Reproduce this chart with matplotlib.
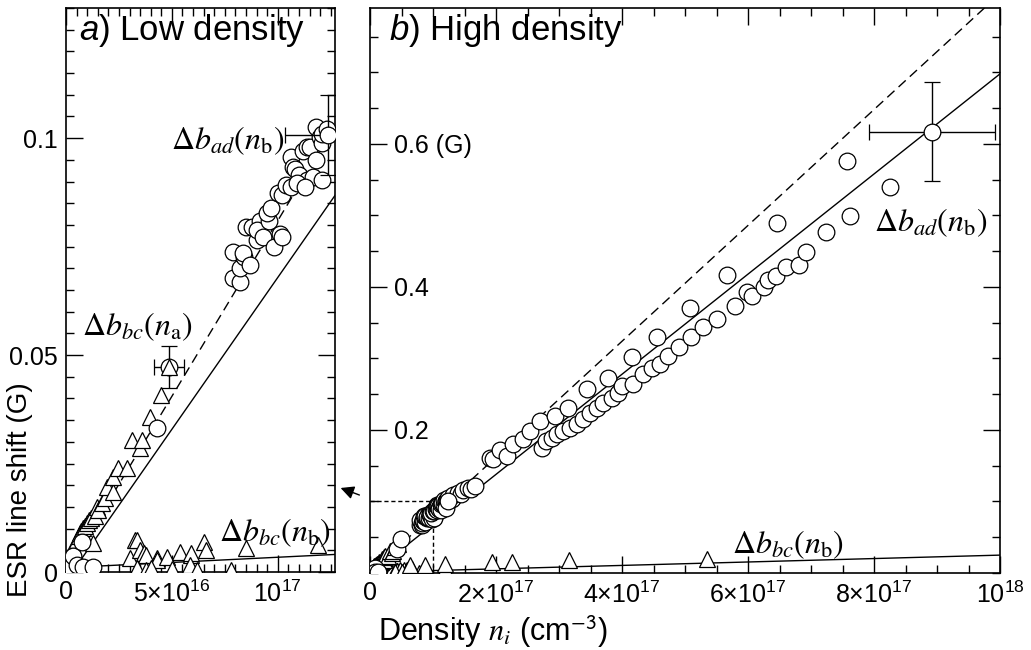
import numpy as np
import matplotlib
matplotlib.use("Agg")
import matplotlib.pyplot as plt
from matplotlib.ticker import MultipleLocator, FixedLocator

SANS = ['Liberation Sans', 'DejaVu Sans']
plt.rcParams['font.family'] = SANS
plt.rcParams['mathtext.fontset'] = 'custom'
plt.rcParams['mathtext.rm'] = 'Liberation Sans'
plt.rcParams['mathtext.it'] = 'Liberation Sans:italic'
plt.rcParams['mathtext.bf'] = 'Liberation Sans:bold'

# ---------------- data ----------------
UNIT_A = 1e16   # panel a x values given in 1e16 cm^-3
UNIT_B = 1e17   # panel b extra x values given in 1e17 cm^-3

# Delta b_ad(n_b) circles, low density (x in 1e16)
ad_low_x = [0.2, 0.35, 0.5, 0.75, 0.8, 1.27, 4.3,
            7.9, 8.2, 7.9, 8.2, 8.4, 8.35, 8.7, 8.5, 8.8, 9.15, 9.0, 9.0, 9.3,
            9.6, 9.5, 9.8, 10.1, 10.2, 9.7, 10.0, 10.2, 10.4, 10.6, 10.6, 10.7,
            10.8, 11.0, 11.4, 11.65, 10.9, 11.3, 11.2, 11.4, 11.5, 11.8, 11.8,
            12.0, 12.1, 12.1, 12.3, 12.1]
ad_low_y = [0.0012, 0.0037, 0.0015, 0.0068, 0.0012, 0.0012, 0.0332,
            0.0677, 0.0668, 0.0737, 0.0700, 0.0726, 0.0735, 0.0707, 0.0795, 0.0795,
            0.0810, 0.0765, 0.0788, 0.0772, 0.0810, 0.0827, 0.0749, 0.0780, 0.0772,
            0.0840, 0.0873, 0.0868, 0.0892, 0.0887, 0.0956, 0.0933, 0.0930, 0.0915,
            0.0903, 0.0910, 0.0896, 0.0887, 0.0970, 0.0980, 0.0980, 0.0950, 0.1025,
            0.1002, 0.0988, 0.1010, 0.1020, 0.0903]

# Delta b_bc(n_a) triangles (x in 1e16)
bca_x = [0.19, 0.33, 0.52, 0.6, 0.66, 0.7, 0.8, 0.9, 1.0, 1.1, 1.2, 1.27, 1.37,
         1.46, 1.5, 1.7, 1.84, 1.93, 2.2, 2.2, 2.45, 2.9, 3.1, 3.5, 3.6, 3.96, 4.5]
bca_y = [0.0010, 0.0058, 0.0074, 0.0082, 0.0090, 0.0095, 0.0101, 0.0105, 0.0113,
         0.0120, 0.0125, 0.0067, 0.0130, 0.0150, 0.0142, 0.0160, 0.0170, 0.0196,
         0.0184, 0.0219, 0.0240, 0.0240, 0.0304, 0.0286, 0.0304, 0.0357, 0.0408]

# Delta b_bc(n_b) triangles, low density (x in 1e16)
bcb_low_x = [0.3, 3.0, 3.25, 3.35, 3.5, 3.7, 3.8, 4.3, 4.3, 4.75, 5.4, 5.9, 5.9,
             6.5, 6.6, 8.5, 11.9, 3.35, 3.8, 5.85, 6.2, 7.8, 4.0, 5.0]
bcb_low_y = [0.0005, 0.0032, 0.0074, 0.0074, 0.0050, 0.0044, 0.0039, 0.0032,
             0.0028, 0.0035, 0.0046, 0.0039, 0.0044, 0.0069, 0.0050, 0.0055,
             0.0062, 0.0010, 0.0005, 0.0016, 0.0005, 0.0005, 0.0010, 0.0008]

# error-bar points, low density (x in 1e16)
err_low_x = [4.86, 12.35]
err_low_y = [0.0472, 0.1007]
err_low_xerr = [0.7, 2.0]
err_low_yerr = [0.0048, 0.0092]

# Delta b_ad(n_b) circles, high density (x in 1e17)
ad_high_x = [1.24, 1.3, 1.32, 1.4, 1.45, 1.48, 1.56, 1.6, 1.67,
             1.9, 1.95, 2.06, 2.17, 2.27, 2.43, 2.54, 2.7, 2.94, 3.14, 3.44, 3.78,
             4.16, 4.56, 5.08, 5.67, 6.46, 7.57, 8.25,
             2.73, 2.8, 2.89, 2.97, 3.06, 3.17, 3.28, 3.38, 3.49, 3.6, 3.7, 3.84,
             3.94, 4.0, 4.17, 4.33, 4.48, 4.6, 4.73, 4.9, 5.1, 5.29, 5.5, 5.79,
             5.98, 6.06, 6.25, 6.32, 6.44, 6.6, 6.81, 6.92, 7.24, 7.62]
ad_high_y = [0.105, 0.104, 0.109, 0.112, 0.110, 0.116, 0.119, 0.117, 0.121,
             0.161, 0.160, 0.172, 0.163, 0.180, 0.187, 0.198, 0.212, 0.219, 0.231,
             0.257, 0.273, 0.302, 0.330, 0.370, 0.417, 0.490, 0.576, 0.540,
             0.175, 0.184, 0.189, 0.194, 0.198, 0.203, 0.208, 0.215, 0.224, 0.231,
             0.238, 0.245, 0.252, 0.261, 0.264, 0.278, 0.287, 0.292, 0.303, 0.316,
             0.330, 0.344, 0.355, 0.373, 0.393, 0.387, 0.400, 0.410, 0.415, 0.428,
             0.431, 0.449, 0.477, 0.499]

# Delta b_bc(n_b) triangles, high density (x in 1e17)
bcb_high_x = [0.63, 0.87, 1.19, 1.94, 2.25, 3.16, 5.35]
bcb_high_y = [0.011, 0.011, 0.012, 0.016, 0.016, 0.018, 0.020]

# error-bar point, high density (x in 1e17)
err_high_x = [8.92]
err_high_y = [0.617]
err_high_xerr = [1.0]
err_high_yerr = [0.069]

# fitted lines: slope (G per cm^-3), x offset, intercept
dash_slope = 8.1e-19
solid_slope = 7.0e-19
solid_x0 = 3e15
bcb_slope = 2.4e-20
bcb_icpt = 0.001

# ---------------- figure ----------------
W, H = 1031, 650
fig = plt.figure(figsize=(W / 100, H / 100), dpi=100)
ax_a = fig.add_axes([66 / W, 78 / H, 269 / W, 564 / H])
ax_b = fig.add_axes([370 / W, 77 / H, 630 / W, 565 / H])

mk = dict(linestyle='none', markerfacecolor='white', markeredgecolor='black',
          markeredgewidth=0.9, markersize=12)
eb = dict(fmt='o', color='black', ecolor='black', elinewidth=1.0, capsize=6,
          capthick=1.0, markerfacecolor='white', markeredgecolor='black',
          markeredgewidth=0.9, markersize=12, zorder=5)

xa = np.array(ad_low_x) * UNIT_A
ya = np.array(ad_low_y)
xta = np.array(bca_x) * UNIT_A
xtb = np.array(bcb_low_x) * UNIT_A
xe = np.array(err_low_x) * UNIT_A
xee = np.array(err_low_xerr) * UNIT_A
xh = np.array(ad_high_x) * UNIT_B
xth = np.array(bcb_high_x) * UNIT_B


def draw_lines(ax, xmax):
    xx = np.array([0.0, xmax])
    ax.plot(xx, dash_slope * xx, color='black', lw=1.0, ls=(0, (7, 4)), zorder=2)
    xs = np.array([solid_x0, xmax])
    ax.plot(xs, solid_slope * (xs - solid_x0), color='black', lw=1.0, zorder=2)
    ax.plot(xx, bcb_icpt + bcb_slope * xx, color='black', lw=1.0, zorder=2)


# ---- panel a ----
draw_lines(ax_a, 1.27e17)
ax_a.plot(xtb, bcb_low_y, marker='^', **mk, zorder=3)
ax_a.plot(xta, bca_y, marker='^', **mk, zorder=3)
ax_a.plot(xa, ya, marker='o', **mk, zorder=4)
ax_a.errorbar(xe, err_low_y, xerr=xee, yerr=err_low_yerr, **eb)
ax_a.plot(xe[:1], err_low_y[:1], marker='^', **mk, zorder=6)

ax_a.set_xlim(0, 1.27e17)
ax_a.set_ylim(0, 0.13)
ax_a.xaxis.set_major_locator(FixedLocator([0, 5e16, 1e17]))
ax_a.set_xticklabels(['0', r'$5{\times}10^{16}$', r'$10^{17}$'])
ax_a.xaxis.set_minor_locator(MultipleLocator(5e15))
ax_a.yaxis.set_major_locator(FixedLocator([0, 0.05, 0.1]))
ax_a.set_yticklabels(['0', '0.05', '0.1'])
ax_a.yaxis.set_minor_locator(MultipleLocator(0.005))

# ---- panel b ----
draw_lines(ax_b, 1.0e18)
ax_b.plot(xtb, bcb_low_y, marker='^', **mk, zorder=3)
ax_b.plot(xth, bcb_high_y, marker='^', **mk, zorder=3)
ax_b.plot(xta, bca_y, marker='^', **mk, zorder=3)
ax_b.plot(xa, ya, marker='o', **mk, zorder=4)
ax_b.plot(xh, ad_high_y, marker='o', **mk, zorder=4)
ax_b.plot(xe, err_low_y, marker='o', **mk, zorder=4)
ax_b.errorbar(np.array(err_high_x) * UNIT_B, err_high_y,
              xerr=np.array(err_high_xerr) * UNIT_B, yerr=err_high_yerr, **eb)
# zoom box
ax_b.plot([0, 1e17, 1e17], [0.1, 0.1, 0], color='black', lw=1.0, ls=(0, (3, 2)), zorder=2)

ax_b.set_xlim(0, 1e18)
ax_b.set_ylim(0, 0.79)
ax_b.xaxis.set_major_locator(FixedLocator([0, 2e17, 4e17, 6e17, 8e17, 1e18]))
ax_b.set_xticklabels(['0', r'$2{\times}10^{17}$', r'$4{\times}10^{17}$',
                      r'$6{\times}10^{17}$', r'$8{\times}10^{17}$', r'$10^{18}$'])
ax_b.xaxis.set_minor_locator(MultipleLocator(5e16))
ax_b.yaxis.set_major_locator(FixedLocator([0.2, 0.4, 0.6]))
ax_b.set_yticklabels(['0.2', '0.4', '0.6 (G)'])
ax_b.yaxis.set_minor_locator(MultipleLocator(0.05))

for ax in (ax_a, ax_b):
    ax.tick_params(which='both', direction='in', top=True, right=True,
                   width=1.0, labelsize=18)
    ax.tick_params(which='major', length=12)
    ax.tick_params(which='minor', length=6)
    ax.tick_params(axis='x', pad=6)
    for s in ax.spines.values():
        s.set_linewidth(1.2)
ax_a.tick_params(axis='y', pad=6)
ax_b.tick_params(axis='y', pad=-17)
for lab in ax_b.get_yticklabels():
    lab.set_horizontalalignment('left')

# ---- annotations ----
serif = dict(math_fontfamily='stix', fontsize=23, color='black')
ax_a.text(0.81, 0.765, r'$\Delta b_{ad}(n_\mathrm{b})$', transform=ax_a.transAxes,
          ha='right', va='center', **serif)
ax_a.text(0.06, 0.434, r'$\Delta b_{bc}(n_\mathrm{a})$', transform=ax_a.transAxes,
          ha='left', va='center', **serif)
ax_a.text(0.57, 0.07, r'$\Delta b_{bc}(n_\mathrm{b})$', transform=ax_a.transAxes,
          ha='left', va='center', **serif)
ax_b.text(0.80, 0.62, r'$\Delta b_{ad}(n_\mathrm{b})$', transform=ax_b.transAxes,
          ha='left', va='center', **serif)
ax_b.text(0.575, 0.05, r'$\Delta b_{bc}(n_\mathrm{b})$', transform=ax_b.transAxes,
          ha='left', va='center', **serif)

ax_a.text(0.05, 0.96, r'$\mathit{a}$) Low density', transform=ax_a.transAxes,
          ha='left', va='center', fontsize=25)
ax_b.text(0.03, 0.96, r'$\mathit{b}$) High density', transform=ax_b.transAxes,
          ha='left', va='center', fontsize=25)

fig.text(20 / W, 1 - 490 / H, 'ESR line shift (G)', rotation=90,
         ha='center', va='center', fontsize=20)
fig.text(493 / W, 1 - 632 / H, r'Density $n_i$ (cm$^{\mathsf{-3}}$)',
         math_fontfamily='stix', ha='center', va='center', fontsize=22)

fig.add_artist(matplotlib.patches.FancyArrowPatch(
    (362 / W, 1 - 496 / H), (338 / W, 1 - 487 / H), transform=fig.transFigure,
    arrowstyle='-|>', mutation_scale=20, color='black', lw=1.0))

fig.savefig('out.png', dpi=100)
